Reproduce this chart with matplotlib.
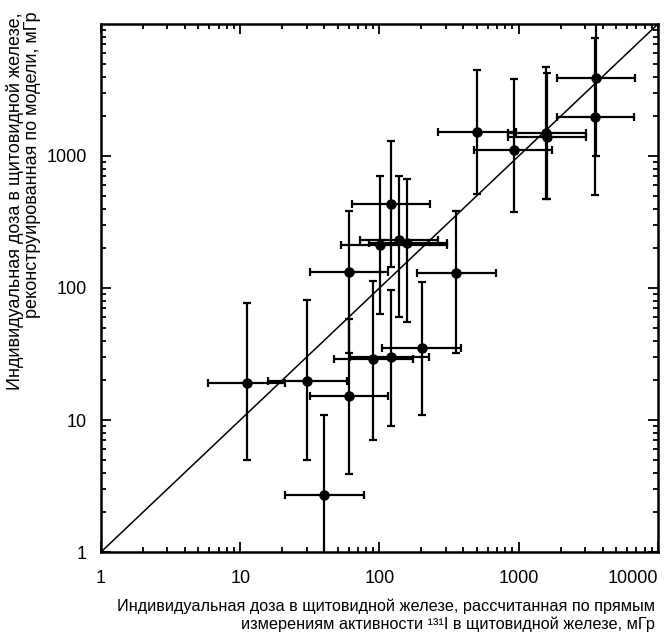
import matplotlib
matplotlib.use("Agg")
import matplotlib.pyplot as plt
import numpy as np

plt.rcParams['font.family'] = ['Liberation Sans', 'DejaVu Sans']

# measured dose (x) and model dose (y), mGy, with error bar ends
x_dose = [11.1, 30, 40, 90, 120, 201, 355, 60.6, 60.6, 101, 120, 139, 158,
          505, 920, 1570, 1585, 3590, 3530]
x_low = [5.9, 15.9, 21, 47, 61, 105, 186, 31.7, 31.7, 53, 63, 73, 84,
         265, 477, 832, 832, 1890, 1870]
x_high = [21, 58, 77, 175, 228, 385, 683, 116, 116, 304, 231, 264, 304,
          960, 1720, 3030, 3030, 6840, 6730]
y_dose = [19.0, 19.9, 2.7, 29, 30, 35, 131, 132, 15.2, 213, 433, 231, 220,
          1528, 1110, 1503, 1400, 3880, 1985]
y_low = [5.0, 5.0, 0.66, 7.0, 9.0, 10.9, 32, 32, 3.9, 63, 144, 60, 55,
         513, 374, 472, 472, 1000, 507]
y_high = [77, 81, 11.0, 113, 96, 112, 385, 385, 58, 700, 1308, 701, 667,
          4500, 3820, 4750, 4280, 15000, 7870]

x_ticks = [1, 10, 100, 1000, 10000]
y_ticks = [1, 10, 100, 1000]

xlabel = ("Индивидуальная доза в щитовидной железе, рассчитанная по прямым\n"
          "измерениям активности ¹³¹I в щитовидной железе, мГр")
ylabel = ("Индивидуальная доза в щитовидной железе,\n"
          "реконструированная по модели, мГр")

x = np.array(x_dose)
y = np.array(y_dose)
xerr = [x - np.array(x_low), np.array(x_high) - x]
yerr = [y - np.array(y_low), np.array(y_high) - y]

fig = plt.figure(figsize=(6.67, 6.43), dpi=100)
ax = fig.add_axes([0.1514, 0.1415, 0.8351, 0.8212])
ax.set_xscale('log')
ax.set_yscale('log')
ax.set_xlim(1, 10000)
ax.set_ylim(1, 10000)

ax.plot([1, 10000], [1, 10000], color='black', lw=1.1, zorder=2)
ax.errorbar(x, y, xerr=xerr, yerr=yerr, fmt='o', color='black',
            ms=6.5, elinewidth=1.6, capsize=3, capthick=1.6, zorder=3)

for s in ax.spines.values():
    s.set_linewidth(1.8)

ax.set_xticks(x_ticks)
ax.set_xticklabels([str(t) for t in x_ticks])
ax.set_yticks(y_ticks)
ax.set_yticklabels([str(t) for t in y_ticks])
ax.tick_params(which='both', direction='in', top=True, right=True, width=1.3)
ax.tick_params(which='major', length=7)
ax.tick_params(which='minor', length=3.5)
ax.tick_params(axis='x', which='major', pad=13, labelsize=13)
ax.tick_params(axis='y', which='major', pad=10, labelsize=13)
ax.get_xticklabels()[-1].set_horizontalalignment('right')

fig.text(655 / 667, 1 - 615 / 643, xlabel, ha='right', va='center',
         multialignment='right', fontsize=11.7, linespacing=1.2)
fig.text(24 / 667, 1 - 12 / 643, ylabel, ha='center', va='top', rotation=90,
         multialignment='right', fontsize=13, linespacing=1.0)

fig.savefig('out.png', dpi=100)
